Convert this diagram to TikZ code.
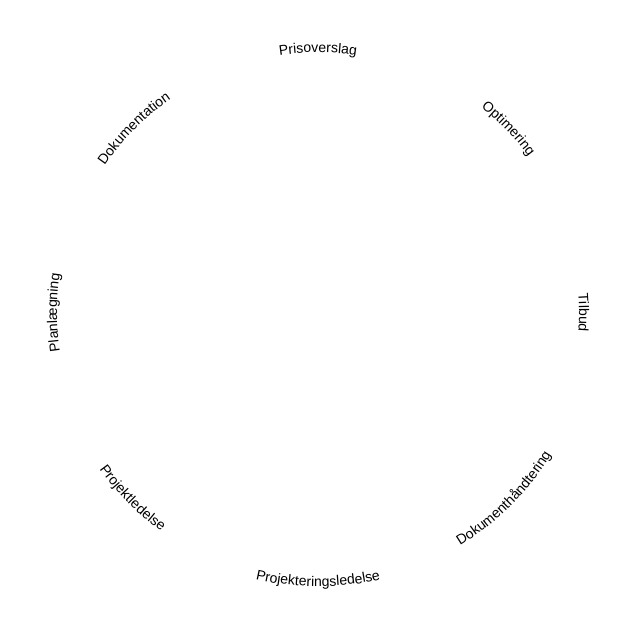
\documentclass[tikz,border=0pt]{standalone}
\usepackage{fontspec}
\setmainfont{Liberation Sans}
\usetikzlibrary{decorations.text}
\newcommand\lblfont{\fontsize{14}{16}\selectfont}
\begin{document}
\begin{tikzpicture}[x=1pt,y=1pt,
  arclabel/.style={decorate, decoration={text along path, text align=center, text={|\lblfont|#1}}}]
\path[use as bounding box, fill=white] (0,0) rectangle (634,628);
\coordinate (c) at (318,315.5);
% labels with tops facing outward (baseline inside)
\path[arclabel={Prisoverslag}] ([shift={(150:260)}]c) arc[start angle=150, end angle=30, radius=260];
\path[arclabel={Optimering}] ([shift={(104:262)}]c) arc[start angle=104, end angle=-16, radius=262];
\path[arclabel={Tilbud}] ([shift={(60:261)}]c) arc[start angle=60, end angle=-60, radius=261];
\path[arclabel={Planlægning}] ([shift={(240:261)}]c) arc[start angle=240, end angle=120, radius=261];
\path[arclabel={Dokumentation}] ([shift={(195:259)}]c) arc[start angle=195, end angle=75, radius=259];
% labels with tops facing inward (baseline outside)
\path[arclabel={Dokumenthåndtering}] ([shift={(-105:273)}]c) arc[start angle=-105, end angle=15, radius=273];
\path[arclabel={Projekteringsledelse}] ([shift={(-150:274)}]c) arc[start angle=-150, end angle=-30, radius=274];
\path[arclabel={Projektledelse}] ([shift={(-195:269)}]c) arc[start angle=-195, end angle=-75, radius=269];
\end{tikzpicture}
\end{document}
